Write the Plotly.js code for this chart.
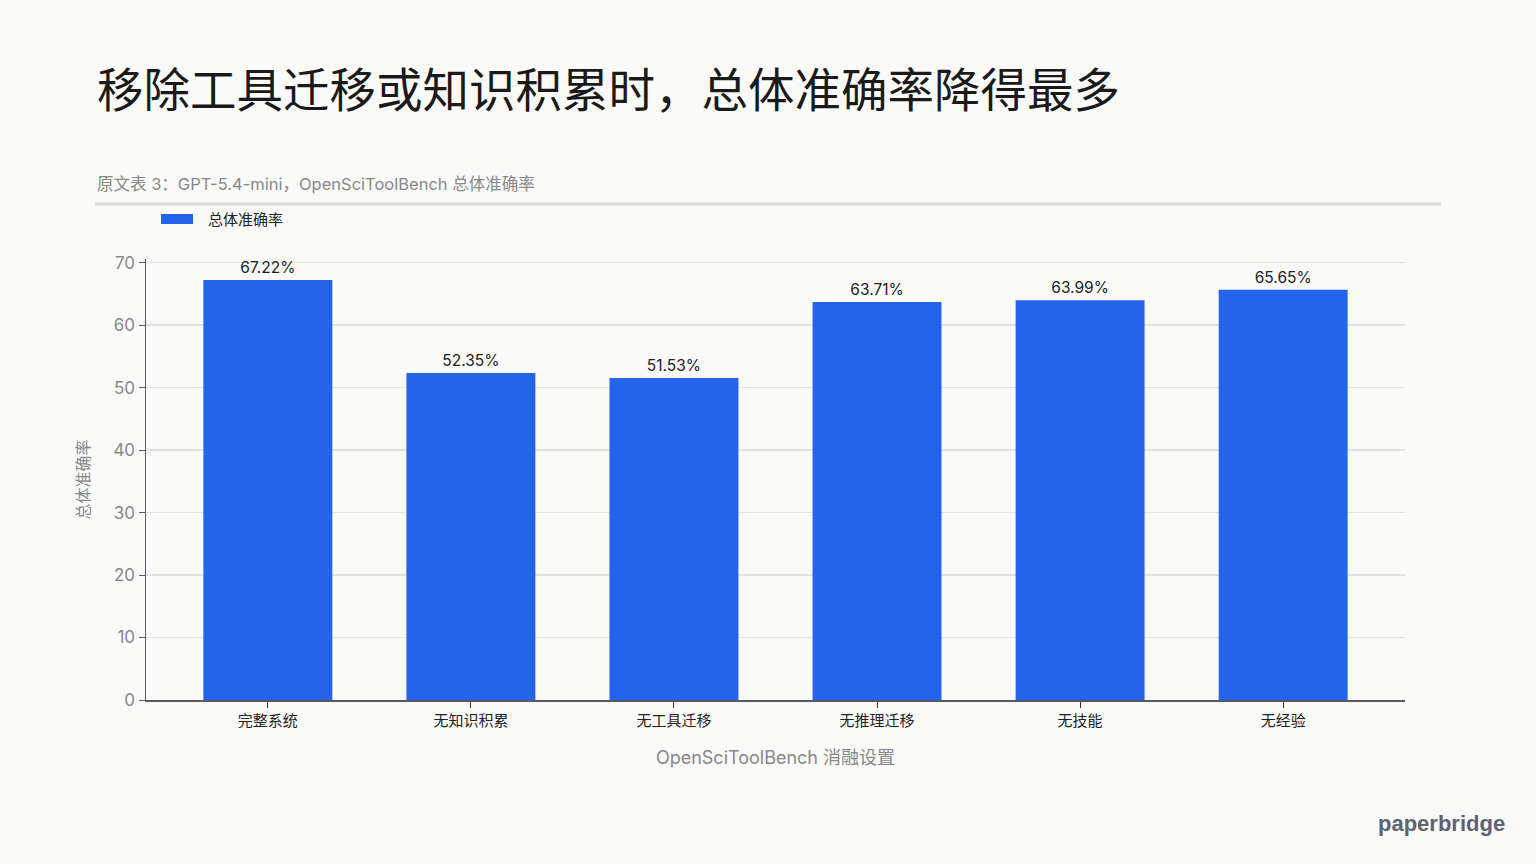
<!DOCTYPE html>
<html>
<head>
<meta charset="utf-8">
<script src="https://cdn.plot.ly/plotly-3.0.1.min.js"></script>
<style>
  html, body { margin: 0; padding: 0; background: #fafaf8; }
  #chart { width: 1536px; height: 864px; }
</style>
</head>
<body>
<div id="chart"></div>
<script>
// ablation settings and overall accuracy (%)
const settings = ["完整系统", "无知识积累", "无工具迁移", "无推理迁移", "无技能", "无经验"];
const accuracy = [67.22, 52.35, 51.53, 63.71, 63.99, 65.65];
const seriesName = "总体准确率";
const barColor = "#2563eb";

const FONT = "Inter, 'Noto Sans CJK SC', sans-serif";
const W = 1536, H = 864;
const margin = { l: 146, r: 131, t: 259, b: 164 };

// page pixel -> paper coords (relative to the plot area)
const plotW = W - margin.l - margin.r;
const plotH = H - margin.t - margin.b;
function px(x) { return (x - margin.l) / plotW; }
function py(y) { return (H - margin.b - y) / plotH; }

const trace = {
  type: "bar",
  x: settings,
  y: accuracy,
  name: seriesName,
  marker: { color: barColor },
  text: accuracy.map(v => v.toFixed(2) + "%"),
  textposition: "outside",
  textfont: { family: FONT, size: 15.5, color: "#222" },
  cliponaxis: false,
  showlegend: false,
};

const layout = {
  width: W,
  height: H,
  paper_bgcolor: "#fafaf8",
  plot_bgcolor: "#fafaf8",
  font: { family: FONT, color: "#333" },
  margin: margin,
  bargap: 0.365,
  showlegend: false,
  xaxis: {
    range: [-0.6, 5.6],
    showline: true,
    linecolor: "#555a62",
    linewidth: 1.5,
    ticks: "outside",
    ticklen: 6,
    tickcolor: "#333",
    tickfont: { family: FONT, size: 15, color: "#222" },
    title: { text: "OpenSciToolBench 消融设置", font: { family: FONT, size: 18, color: "#888" }, standoff: 23 },
  },
  yaxis: {
    range: [0, 70.58],
    dtick: 10,
    showline: true,
    linecolor: "#555a62",
    linewidth: 1.5,
    ticks: "outside",
    ticklen: 6,
    tickcolor: "#555a62",
    showgrid: true,
    gridcolor: "#e2e2de",
    gridwidth: 1.5,
    zeroline: false,
    tickfont: { family: FONT, size: 17, color: "#888" },
    title: { text: seriesName, font: { family: FONT, size: 16, color: "#888" }, standoff: 20 },
  },
  annotations: [
    {
      text: "移除工具迁移或知识积累时，总体准确率降得最多",
      xref: "paper", yref: "paper",
      x: px(95), y: py(90),
      xanchor: "left", yanchor: "middle",
      showarrow: false,
      font: { family: FONT, size: 46.5, color: "#1a1a1a" },
    },
    {
      text: "原文表 3：GPT-5.4-mini，OpenSciToolBench 总体准确率",
      xref: "paper", yref: "paper",
      x: px(95), y: py(184),
      xanchor: "left", yanchor: "middle",
      showarrow: false,
      font: { family: FONT, size: 16.5, color: "#888" },
    },
    {
      text: seriesName,
      xref: "paper", yref: "paper",
      x: px(206), y: py(219),
      xanchor: "left", yanchor: "middle",
      showarrow: false,
      font: { family: FONT, size: 15, color: "#222" },
    },
    {
      text: "<b>paperbridge</b>",
      xref: "paper", yref: "paper",
      x: px(1507), y: py(823),
      xanchor: "right", yanchor: "middle",
      showarrow: false,
      font: { family: "'Liberation Sans', Arial, sans-serif", size: 22, color: "#5b6370" },
    },
  ],
  shapes: [
    {
      type: "line", xref: "paper", yref: "paper",
      x0: px(95), x1: px(1441),
      y0: py(204), y1: py(204),
      line: { color: "#dcdcd8", width: 3 },
    },
    {
      // legend swatch
      type: "rect", xref: "paper", yref: "paper",
      x0: px(161), x1: px(193),
      y0: py(214), y1: py(224),
      fillcolor: barColor,
      line: { width: 0 },
    },
  ],
};

Plotly.newPlot("chart", [trace], layout, { displayModeBar: false, staticPlot: true });
</script>
</body>
</html>
